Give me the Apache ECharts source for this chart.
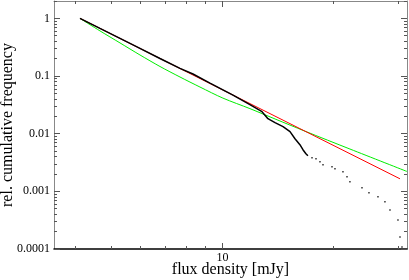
<!DOCTYPE html>
<html><head><meta charset="utf-8">
<script src="https://cdn.jsdelivr.net/npm/echarts@6/dist/echarts.min.js"></script>
<style>html,body{margin:0;padding:0;background:#fff}#c{width:409px;height:280px}</style>
</head><body><div id="c"></div>
<script>
// Empirical cumulative distribution (continuous part)
const cumFlux = [4.115, 4.661, 5.281, 5.981, 6.776, 7.676, 8.323, 9.254, 10.68, 11.87, 12.80, 13.28, 13.88, 14.59, 15.24, 15.72, 16.21, 16.52, 16.83, 17.04];
const cumFreq = [1.0, 0.670, 0.4489, 0.3008, 0.2015, 0.1360, 0.1083, 0.0755, 0.0467, 0.0319, 0.0241, 0.0182, 0.01553, 0.01323, 0.01083, 0.00818, 0.00644, 0.00527, 0.00449, 0.00414];
// Tail: individual sources
const tailFlux = [17.48, 17.92, 18.37, 18.72, 19.80, 20.17, 21.20, 21.74, 22.14, 23.87, 24.93, 26.37, 27.54, 28.42, 29.87, 30.25, 30.63];
const tailFreq = [0.00383, 0.00367, 0.00326, 0.00289, 0.00267, 0.00246, 0.00218, 0.00179, 0.00146, 0.00115, 0.000942, 0.000802, 0.000657, 0.000477, 0.000319, 0.000162, 0.000108];
// Power-law fit (red)
const fitFlux = [4.115, 30.25];
const fitFreq = [1.0, 0.00165];
// Model curve (green)
const modelFlux = [4.115, 4.661, 5.281, 5.981, 6.776, 7.676, 8.694, 10.03, 11.87, 13.88, 16.73, 22.14, 31.60];
const modelFreq = [1.0, 0.6063, 0.3750, 0.2318, 0.1463, 0.0961, 0.0644, 0.0414, 0.0272, 0.0180, 0.01105, 0.00542, 0.00221];
// Axis ticks
const xMajor = [10];
const xMinor = [4, 5, 6, 7, 8, 9, 20, 30];
const yMajor = [0.0001, 0.001, 0.01, 0.1, 1];
const yMinor = [];
[0.0001, 0.001, 0.01, 0.1, 1].forEach(d => { for (let k = 2; k <= 9; k++) yMinor.push(+(d * k).toPrecision(3)); });
const xRange = [3.5, 31.6];
const yRange = [0.0001, 2];

const FONT = 'Liberation Serif';
const zip = (a, b) => a.map((v, i) => [v, b[i]]);
function fmt(v) {
  const e = Math.round(Math.log10(v));
  return e >= 0 ? String(Math.pow(10, e)) : Math.pow(10, e).toFixed(-e);
}
function xAx(pos, major, lineColor, lineW, labels) {
  return {
    type: 'log', logBase: 10, position: pos, min: xRange[0], max: xRange[1],
    axisLine: { show: lineColor != null, onZero: false, lineStyle: { color: lineColor || '#000', width: lineW } },
    axisTick: { show: true, inside: true, length: major ? 6 : 3, customValues: major ? xMajor : xMinor, lineStyle: { color: '#555', width: 1 } },
    axisLabel: { show: !!labels, customValues: xMajor, margin: 3, fontFamily: FONT, fontSize: 12, color: '#000', formatter: fmt },
    splitLine: { show: false }, minorTick: { show: false }
  };
}
function yAx(pos, major, lineColor, lineW, labels) {
  return {
    type: 'log', logBase: 10, position: pos, min: yRange[0], max: yRange[1],
    axisLine: { show: lineColor != null, onZero: false, lineStyle: { color: lineColor || '#000', width: lineW } },
    axisTick: { show: true, inside: true, length: major ? 6 : 3, customValues: major ? yMajor : yMinor, lineStyle: { color: '#555', width: 1 } },
    axisLabel: { show: !!labels, customValues: yMajor, margin: 4, fontFamily: FONT, fontSize: 12, color: '#000', formatter: fmt },
    splitLine: { show: false }, minorTick: { show: false }
  };
}
const xa0 = xAx('bottom', true, '#000', 1.5, true);
xa0.name = 'flux density [mJy]';
xa0.nameLocation = 'middle';
xa0.nameGap = 13;
xa0.nameMoveOverlap = false;
xa0.nameTextStyle = { fontFamily: FONT, fontSize: 16, color: '#000' };
const ya0 = yAx('left', true, '#888', 1, true);
ya0.name = 'rel. cumulative frequency';
ya0.nameLocation = 'middle';
ya0.nameGap = 38;
ya0.nameMoveOverlap = false;
ya0.nameTextStyle = { fontFamily: FONT, fontSize: 16, color: '#000' };

const chart = echarts.init(document.getElementById('c'), null, { renderer: 'canvas' });
chart.setOption({
  animation: false,
  backgroundColor: '#fff',
  grid: { left: 54, right: 2, top: 1, bottom: 31, containLabel: false, outerBoundsMode: 'none' },
  xAxis: [xa0, xAx('bottom', false, null, 1, false), xAx('top', true, '#888', 1, false), xAx('top', false, null, 1, false)],
  yAxis: [ya0, yAx('left', false, null, 1, false), yAx('right', true, '#888', 1, false), yAx('right', false, null, 1, false)],
  series: [
    { type: 'line', data: zip(modelFlux, modelFreq), symbol: 'none', smooth: 0.3, lineStyle: { color: '#00ee00', width: 1 }, z: 2 },
    { type: 'line', data: zip(fitFlux, fitFreq), symbol: 'none', lineStyle: { color: '#ff0000', width: 1 }, z: 3 },
    { type: 'line', data: zip(cumFlux, cumFreq), symbol: 'none', lineStyle: { color: '#000', width: 1.5 }, z: 4 },
    { type: 'scatter', data: zip(tailFlux, tailFreq), symbol: 'rect', symbolSize: 1.5, itemStyle: { color: '#000' }, z: 4 }
  ]
});
</script>
</body></html>
